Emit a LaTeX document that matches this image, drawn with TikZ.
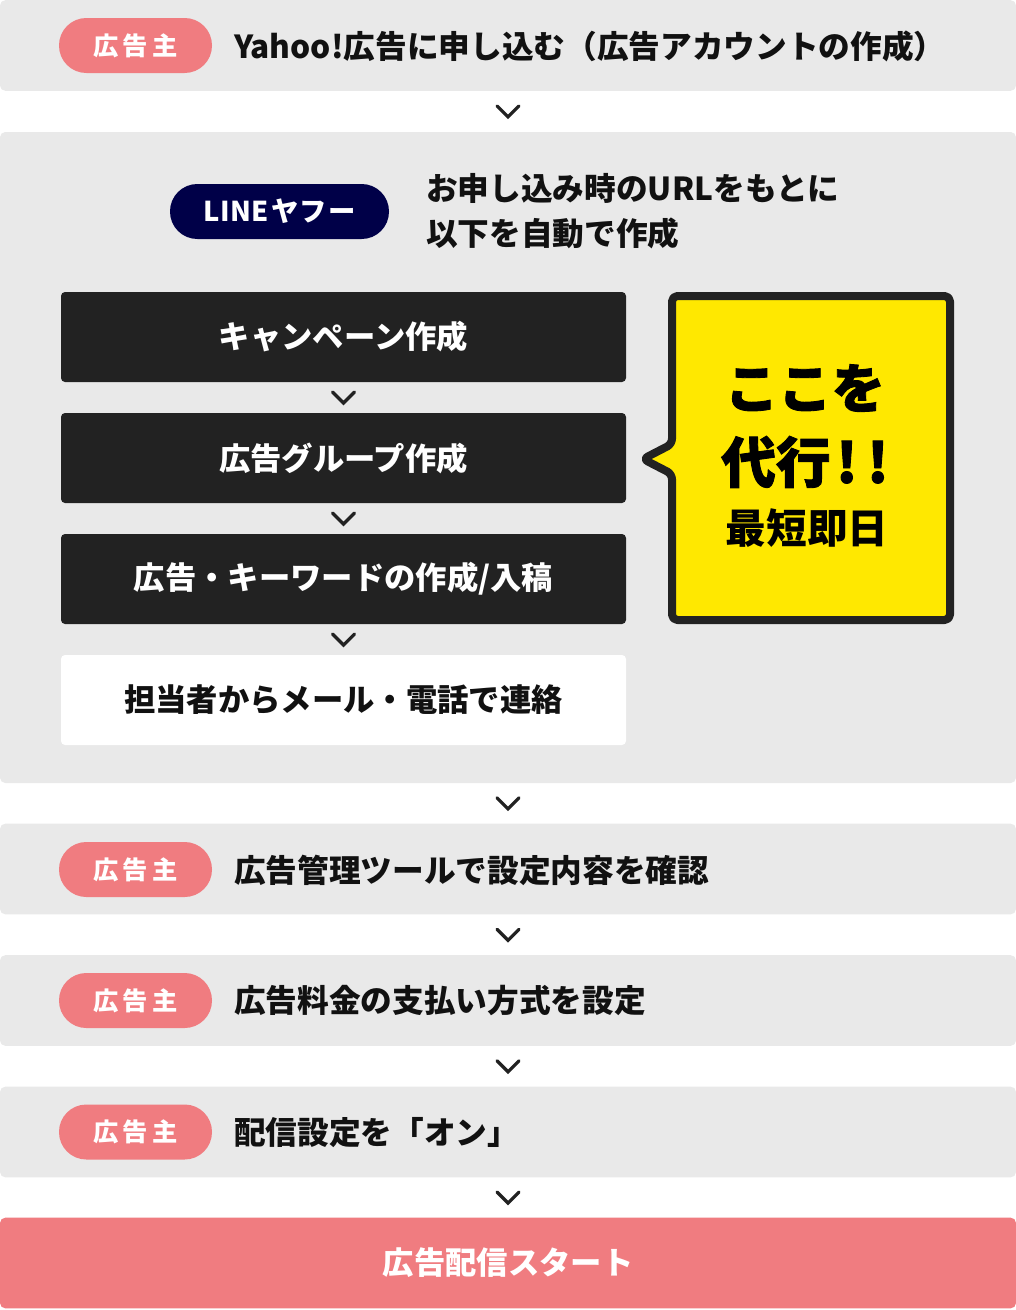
\documentclass[tikz,border=0pt]{standalone}
\usepackage{fontspec}
\setmainfont{Noto Sans CJK JP}
\usetikzlibrary{calc}
\definecolor{bandgray}{HTML}{E9E9E9}
\definecolor{pinkred}{HTML}{F07C80}
\definecolor{navy}{HTML}{000048}
\definecolor{darkbox}{HTML}{222222}
\definecolor{ylw}{HTML}{FFE800}
\definecolor{ink}{HTML}{111111}
\newcommand{\fsz}[1]{\fontsize{#1}{#1}\selectfont\bfseries}
\newcommand{\heavy}{\addfontfeatures{FakeBold=1.6}}
\tikzset{
  band/.style={fill=bandgray, rounded corners=4pt, minimum width=762pt, minimum height=68pt, inner sep=0pt},
  pill/.style={fill=pinkred, rounded corners=20.5pt, minimum width=114.75pt, minimum height=41.25pt, inner sep=0pt, text=white, font=\fsz{19pt}},
  linepill/.style={fill=navy, rounded corners=20.5pt, minimum width=164.25pt, minimum height=41.25pt, inner sep=0pt, text=white, font=\fsz{20.5pt}},
  bandtext/.style={anchor=west, inner sep=0pt, text=ink, font=\fsz{23.75pt}},
  darkstep/.style={fill=darkbox, rounded corners=3pt, minimum width=423.75pt, minimum height=67.5pt, inner sep=0pt, text=white, font=\fsz{23.5pt}},
  whitestep/.style={fill=white, rounded corners=3pt, minimum width=423.75pt, minimum height=67.5pt, inner sep=0pt, text=ink, font=\fsz{23.5pt}},
  chev/.style={draw=darkbox, line width=2.4pt, line cap=round, line join=miter},
}
\newcommand{\chevat}[1]{\draw[chev] ($(#1)+(-11,-5.5)$) -- ++(11,11) -- ++(11,-11);}
\begin{document}
\begin{tikzpicture}[x=0.75pt,y=-0.75pt]
\useasboundingbox (0,0) rectangle (1016,1310);
\fill[white] (0,0) rectangle (1016,1310);

% band 1
\node[band] (b1) at (508,45.5) {};
\node[pill] (p1) at (135.5,45.5) {広\hspace{3pt}告\hspace{3pt}主};
\node[bandtext] (t1) at (234,46) {Yahoo!広告に申し込む（広告アカウントの作成）};

% big panel
\node[band, minimum height=488.25pt] (panel) at (508,457.5) {};
\node[linepill] (lp) at (279.5,211.5) {L\hspace{0.5pt}I\hspace{0.5pt}N\hspace{0.5pt}E\hspace{1.5pt}ヤ\hspace{1pt}フ\hspace{1pt}ー};
\node[bandtext, align=left, font=\fontsize{23.75pt}{33.75pt}\selectfont\bfseries] (lt) at (426,211) {お申し込み時のURLをもとに\\以下を自動で作成};

\node[darkstep] (s1) at (343.5,337) {キャンペーン作成};
\node[darkstep] (s2) at (343.5,458) {広告グループ作成};
\node[darkstep] (s3) at (343.5,579) {広告・キーワードの作成/入稿};
\node[whitestep] (s4) at (343.5,700) {担当者からメール・電話で連絡};

% speech bubble
\draw[fill=ylw, draw=darkbox, line width=6pt, rounded corners=4pt, line join=round]
  (672,444) -- (672,296) -- (950,296) -- (950,620) -- (672,620) -- (672,474) -- (643,459) -- cycle;
\node[inner sep=0pt, text=black, font=\fsz{40pt}\heavy] (y1) at (805,388) {ここを};
\node[inner sep=0pt, text=black, font=\fsz{41pt}\heavy] (y2) at (805,462) {代行\hspace{4pt}!\hspace{7pt}!};
\node[inner sep=0pt, text=black, font=\fsz{30.5pt}] (y3) at (807,528) {最短即日};

% band 2-4
\node[band] (b2) at (508,869) {};
\node[pill] (p2) at (135.5,869.5) {広\hspace{3pt}告\hspace{3pt}主};
\node[bandtext] (t2) at (234,870) {広告管理ツールで設定内容を確認};

\node[band] (b3) at (508,1000.5) {};
\node[pill] (p3) at (135.5,1000.5) {広\hspace{3pt}告\hspace{3pt}主};
\node[bandtext] (t3) at (234,1001) {広告料金の支払い方式を設定};

\node[band] (b4) at (508,1132) {};
\node[pill] (p4) at (135.5,1132) {広\hspace{3pt}告\hspace{3pt}主};
\node[bandtext] (t4) at (234,1132.5) {配信設定を「オン」};

% final
\node[band, fill=pinkred, text=white, font=\fsz{23.5pt}] (fin) at (508,1263) {広告配信スタート};

% chevrons
\chevat{$(b1.south)!0.5!(panel.north)$}
\chevat{$(s1.south)!0.5!(s2.north)$}
\chevat{$(s2.south)!0.5!(s3.north)$}
\chevat{$(s3.south)!0.5!(s4.north)$}
\chevat{$(panel.south)!0.5!(b2.north)$}
\chevat{$(b2.south)!0.5!(b3.north)$}
\chevat{$(b3.south)!0.5!(b4.north)$}
\chevat{$(b4.south)!0.5!(fin.north)$}
\end{tikzpicture}
\end{document}
